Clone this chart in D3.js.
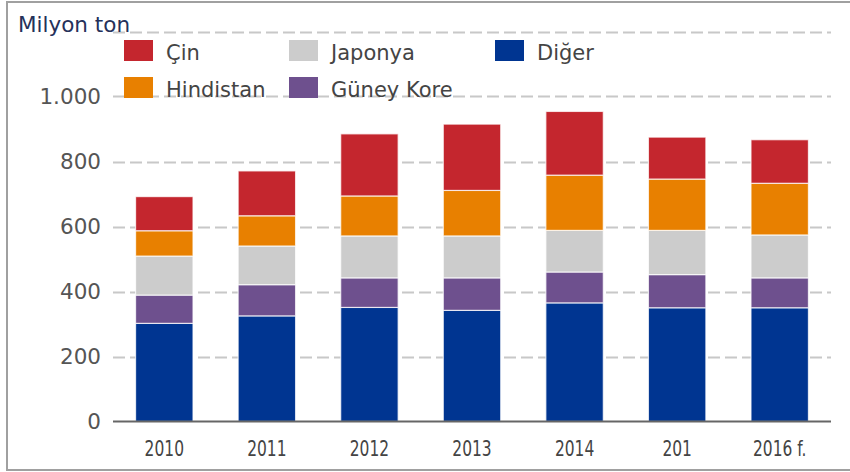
<!DOCTYPE html>
<html>
<head>
<meta charset="utf-8">
<script src="https://cdn.jsdelivr.net/npm/d3@7"></script>
<style>
  html, body { margin: 0; padding: 0; background: #fff; }
  svg { display: block; font-family: "DejaVu Sans", Verdana, sans-serif; }
</style>
</head>
<body>
<svg id="chart" width="850" height="472"></svg>
<script>
// data (milyon ton)
var years = ["2010", "2011", "2012", "2013", "2014", "201", "2016 f."];
var diger = [302, 325, 351, 342, 365, 350, 350];
var guneyKore = [87, 96, 91, 100, 95, 102, 92];
var japonya = [120, 119, 129, 129, 128, 136, 132];
var hindistan = [78, 93, 123, 140, 170, 158, 159];
var cin = [105, 138, 191, 204, 196, 129, 134];
var yTicks = [0, 200, 400, 600, 800, 1000];
var gridTicks = [200, 400, 600, 800, 1000, 1200];

var keys = ["Diğer", "Güney Kore", "Japonya", "Hindistan", "Çin"];
var colors = {
  "Diğer": "#003591",
  "Güney Kore": "#6e508e",
  "Japonya": "#cccccc",
  "Hindistan": "#e88000",
  "Çin": "#c4262e"
};

var rows = years.map(function (y, i) {
  return {
    year: y,
    "Diğer": diger[i],
    "Güney Kore": guneyKore[i],
    "Japonya": japonya[i],
    "Hindistan": hindistan[i],
    "Çin": cin[i]
  };
});

var svg = d3.select("#chart");

var x = d3.scaleBand()
  .domain(years)
  .range([113, 831])
  .paddingInner(0.44)
  .paddingOuter(0.22);

var y = d3.scaleLinear()
  .domain([0, 1200])
  .range([421.5, 31.5]);

// frame
svg.append("path")
  .attr("d", "M852,2 H7 V470 H852")
  .attr("fill", "none")
  .attr("stroke", "#a0a0a0")
  .attr("stroke-width", 2);

// dashed grid
svg.append("g")
  .selectAll("line")
  .data(gridTicks)
  .enter().append("line")
  .attr("x1", 113)
  .attr("x2", 831)
  .attr("y1", function (d) { return Math.round(y(d)) + 0.5; })
  .attr("y2", function (d) { return Math.round(y(d)) + 0.5; })
  .attr("stroke", "#c8c8c8")
  .attr("stroke-width", 2)
  .attr("stroke-dasharray", "12,5");

// y labels
svg.append("g")
  .selectAll("text")
  .data(yTicks)
  .enter().append("text")
  .attr("x", 101)
  .attr("y", function (d) { return y(d); })
  .attr("dy", "0.36em")
  .attr("text-anchor", "end")
  .attr("fill", "#555")
  .style("font-size", "21.5px")
  .text(function (d) { return d3.format(",")(d).replace(/,/g, "."); });

// stacked bars
var series = d3.stack().keys(keys)(rows);

svg.append("g")
  .selectAll("g")
  .data(series)
  .enter().append("g")
  .attr("fill", function (d) { return colors[d.key]; })
  .selectAll("rect")
  .data(function (d) { return d; })
  .enter().append("rect")
  .attr("x", function (d) { return x(d.data.year); })
  .attr("width", x.bandwidth())
  .attr("y", function (d) { return y(d[1]); })
  .attr("height", function (d) { return y(d[0]) - y(d[1]); })
  .attr("stroke", "rgba(255,255,255,0.75)")
  .attr("stroke-width", 1.2);

// x axis line
svg.append("line")
  .attr("x1", 113)
  .attr("x2", 831)
  .attr("y1", y(0))
  .attr("y2", y(0))
  .attr("stroke", "#666")
  .attr("stroke-width", 2);

// x labels (narrow face in the original, so squeeze them)
svg.append("g")
  .selectAll("text")
  .data(years)
  .enter().append("text")
  .attr("transform", function (d) {
    return "translate(" + (x(d) + x.bandwidth() / 2) + ",455.5) scale(0.72,1)";
  })
  .attr("text-anchor", "middle")
  .attr("fill", "#444")
  .style("font-size", "21.5px")
  .text(function (d) { return d; });

// title
svg.append("text")
  .attr("x", 18)
  .attr("y", 32)
  .attr("fill", "#25315a")
  .style("font-size", "21.5px")
  .text("Milyon ton");

// legend
var legendItems = [
  { key: "Çin", x: 124, y: 40 },
  { key: "Japonya", x: 289, y: 40 },
  { key: "Diğer", x: 495, y: 40 },
  { key: "Hindistan", x: 124, y: 77 },
  { key: "Güney Kore", x: 289, y: 77 }
];

var legend = svg.append("g")
  .selectAll("g")
  .data(legendItems)
  .enter().append("g")
  .attr("transform", function (d) { return "translate(" + d.x + "," + d.y + ")"; });

legend.append("rect")
  .attr("width", 29)
  .attr("height", 21)
  .attr("fill", function (d) { return colors[d.key]; });

legend.append("text")
  .attr("x", 42)
  .attr("y", 19.5)
  .attr("fill", "#444")
  .style("font-size", "21px")
  .text(function (d) { return d.key; });
</script>
</body>
</html>
